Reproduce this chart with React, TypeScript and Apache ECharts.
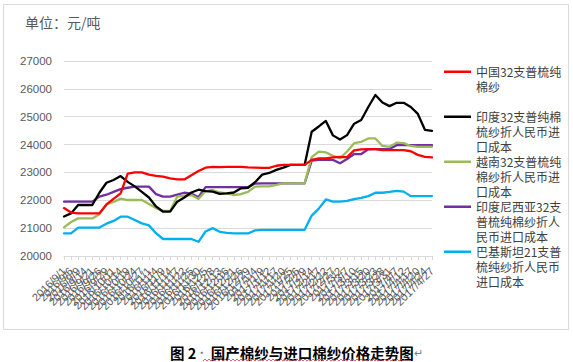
import React, { useEffect, useRef } from "react";
import * as echarts from "echarts";

const dates = [
  "2016/9/1", "2016/9/6", "2016/9/9", "2016/9/14", "2016/9/21", "2016/9/26", "2016/9/29",
  "2016/10/11", "2016/10/14", "2016/10/19", "2016/10/24", "2016/10/27",
  "2016/11/1", "2016/11/4", "2016/11/9", "2016/11/14", "2016/11/17", "2016/11/22", "2016/11/25", "2016/11/30",
  "2016/12/5", "2016/12/8", "2016/12/13", "2016/12/16", "2016/12/21", "2016/12/26", "2016/12/29",
  "2017/1/4", "2017/1/9", "2017/1/12", "2017/1/17", "2017/1/20", "2017/1/25",
  "2017/2/6", "2017/2/9", "2017/2/14", "2017/2/17", "2017/2/22", "2017/2/27",
  "2017/3/2", "2017/3/7", "2017/3/10", "2017/3/15", "2017/3/20", "2017/3/23", "2017/3/28", "2017/3/31",
  "2017/4/7", "2017/4/12", "2017/4/17", "2017/4/20", "2017/4/24", "2017/4/27",
];

const china32 = [
  21720, 21560, 21530, 21530, 21530, 21530, 21850, 22050, 22250, 22960,
  23000, 23000, 22920, 22880, 22850, 22790, 22750, 22750, 22900, 23050,
  23170, 23200, 23190, 23200, 23200, 23200, 23180, 23170, 23160, 23160,
  23240, 23270, 23270, 23270, 23270, 23450, 23500, 23500, 23540, 23560,
  23550, 23790, 23830, 23840, 23840, 23800, 23800, 23800, 23800, 23760,
  23630, 23560, 23540,
];
const india32 = [
  21420, 21530, 21830, 21830, 21830, 22270, 22630, 22730, 22870, 22660,
  22500, 22300, 22100, 21780, 21590, 21590, 21950, 22100, 22280, 22380,
  22330, 22310, 22230, 22250, 22280, 22430, 22450, 22650, 22920, 22980,
  23090, 23170, 23270, 23270, 23270, 24460, 24650, 24850, 24330, 24180,
  24340, 24750, 24880, 25350, 25780, 25510, 25380, 25500, 25500, 25350,
  25100, 24530, 24490,
];
const vietnam32 = [
  21030, 21220, 21350, 21350, 21350, 21500, 21850, 21940, 22060, 22010,
  22010, 22010, 21870, 21720, 21620, 21620, 22130, 22170, 22190, 22050,
  22330, 22370, 22280, 22250, 22190, 22220, 22300, 22490, 22500, 22500,
  22550, 22610, 22610, 22610, 22610, 23550, 23750, 23720, 23600, 23510,
  23750, 24050, 24100, 24220, 24220, 23950, 23920, 24070, 24050, 23950,
  23920, 23920, 23920,
];
const indonesia32 = [
  21950, 21950, 21950, 21950, 21950, 22130, 22200, 22300, 22400, 22450,
  22490, 22490, 22490, 22220, 22130, 22130, 22200, 22270, 22240, 22110,
  22470, 22470, 22470, 22470, 22470, 22470, 22470, 22600, 22610, 22610,
  22610, 22610, 22610, 22610, 22610, 23420, 23450, 23450, 23450, 23330,
  23480, 23660, 23660, 23830, 23840, 23840, 23840, 23980, 23980, 23980,
  23980, 23980, 23980,
];
const pakistan21 = [
  20810, 20810, 21020, 21020, 21020, 21020, 21160, 21260, 21410, 21410,
  21290, 21170, 21100, 20820, 20610, 20610, 20610, 20610, 20610, 20510,
  20880, 21000, 20870, 20830, 20810, 20810, 20810, 20920, 20940, 20940,
  20940, 20940, 20940, 20940, 20940, 21450, 21700, 22030, 21950, 21950,
  21980, 22040, 22090, 22150, 22270, 22270, 22300, 22340, 22310, 22150,
  22150, 22150, 22150,
];

const seriesNames = [
  "中国32支普梳纯棉纱",
  "印度32支普纯棉梳纱折人民币进口成本",
  "越南32支普梳纯棉纱折人民币进口成本",
  "印度尼西亚32支普梳纯棉纱折人民币进口成本",
  "巴基斯坦21支普梳纯纱折人民币进口成本",
];
const legendLabels = [
  "中国32支普梳纯\n棉纱\n\u3000",
  "印度32支普纯棉\n梳纱折人民币进\n口成本",
  "越南32支普梳纯\n棉纱折人民币进\n口成本",
  "印度尼西亚32支\n普梳纯棉纱折人\n民币进口成本",
  "巴基斯坦21支普\n梳纯纱折人民币\n进口成本",
];
const seriesData = [china32, india32, vietnam32, indonesia32, pakistan21];
const seriesColors = ["#ff0000", "#000000", "#9bbb59", "#7030a0", "#00b0f0"];

const yMin = 20000;
const yMax = 27000;
const yStep = 1000;

const unitText = "单位：元/吨";
const captionText = "国产棉纱与进口棉纱价格走势图";

const CJK = '"Noto Sans CJK SC", "Noto Sans", sans-serif';
const NUM = '"Liberation Sans", Arial, sans-serif';

export default function App() {
  const ref = useRef<HTMLDivElement>(null);

  useEffect(() => {
    if (!ref.current) return;
    const chart = echarts.init(ref.current, null, { renderer: "svg" });

    const squiggle: number[][] = [];
    for (let x = 203, k = 0; x <= 405; x += 2, k++) {
      squiggle.push([x, k % 2 === 0 ? 361 : 359]);
    }

    const labelMap: Record<string, string> = {};
    seriesNames.forEach((n, i) => (labelMap[n] = legendLabels[i]));

    chart.setOption({
      animation: false,
      backgroundColor: "#ffffff",
      grid: { left: 64, right: 141, top: 61, bottom: 106, containLabel: false },
      legend: {
        orient: "vertical",
        left: 444,
        top: 64,
        padding: 0,
        itemGap: 0,
        itemWidth: 27,
        itemHeight: 45,
        align: "left",
        icon: "path://M0,0L0.01,0L0,0Z M0,6.6L27,6.6L27,8.9L0,8.9Z M0,45L0.01,45L0,45Z",
        itemStyle: { borderWidth: 0 },
        formatter: (name: string) => labelMap[name] || name,
        textStyle: {
          fontSize: 12,
          lineHeight: 15,
          color: "#404040",
          fontFamily: CJK,
        },
        data: seriesNames,
      },
      xAxis: {
        type: "category",
        data: dates,
        boundaryGap: false,
        axisLine: { show: true, lineStyle: { color: "#d9d9d9", width: 1 } },
        axisTick: { show: true, length: 4, lineStyle: { color: "#d9d9d9" } },
        axisLabel: {
          interval: 0,
          rotate: 45,
          margin: 13,
          fontSize: 11,
          color: "#595959",
          fontFamily: NUM,
        },
        splitLine: { show: false },
      },
      yAxis: {
        type: "value",
        min: yMin,
        max: yMax,
        interval: yStep,
        axisLine: { show: false },
        axisTick: { show: false },
        axisLabel: {
          margin: 12,
          fontSize: 11.5,
          color: "#595959",
          fontFamily: NUM,
          formatter: (v: number) => String(v),
        },
        splitLine: { show: true, lineStyle: { color: "#d9d9d9", width: 1 } },
      },
      series: seriesNames.map((name, i) => ({
        name,
        type: "line",
        data: seriesData[i],
        showSymbol: false,
        symbol: "none",
        color: seriesColors[i],
        lineStyle: { color: seriesColors[i], width: 2.3, join: "round", cap: "round" },
        z: 10 - i,
      })),
      graphic: [
        {
          type: "rect",
          silent: true,
          z: -10,
          shape: { x: 3.5, y: 4.5, width: 565, height: 325 },
          style: { fill: "none", stroke: "#d9d9d9", lineWidth: 1 },
        },
        {
          type: "text",
          x: 25,
          y: 22,
          style: {
            text: unitText,
            fontSize: 14,
            fill: "#595959",
            fontFamily: CJK,
            verticalAlign: "middle",
          },
        },
        {
          type: "text",
          x: 170,
          y: 352,
          style: {
            text: "{b|图 2}{g|·}{b| " + captionText + "}{g|↵}",
            verticalAlign: "middle",
            rich: {
              b: { fontSize: 14.5, fontWeight: "bold", fill: "#000000", fontFamily: CJK },
              g: { fontSize: 11, fill: "#7f7f7f", fontFamily: CJK },
            },
          },
        },
        {
          type: "polyline",
          silent: true,
          shape: { points: squiggle },
          style: { stroke: "#e04040", lineWidth: 0.8, fill: "none" },
        },
      ],
    });

    return () => chart.dispose();
  }, []);

  return (
    <div
      ref={ref}
      style={{ position: "fixed", left: 0, top: 0, width: 573, height: 362, background: "#fff" }}
    />
  );
}
